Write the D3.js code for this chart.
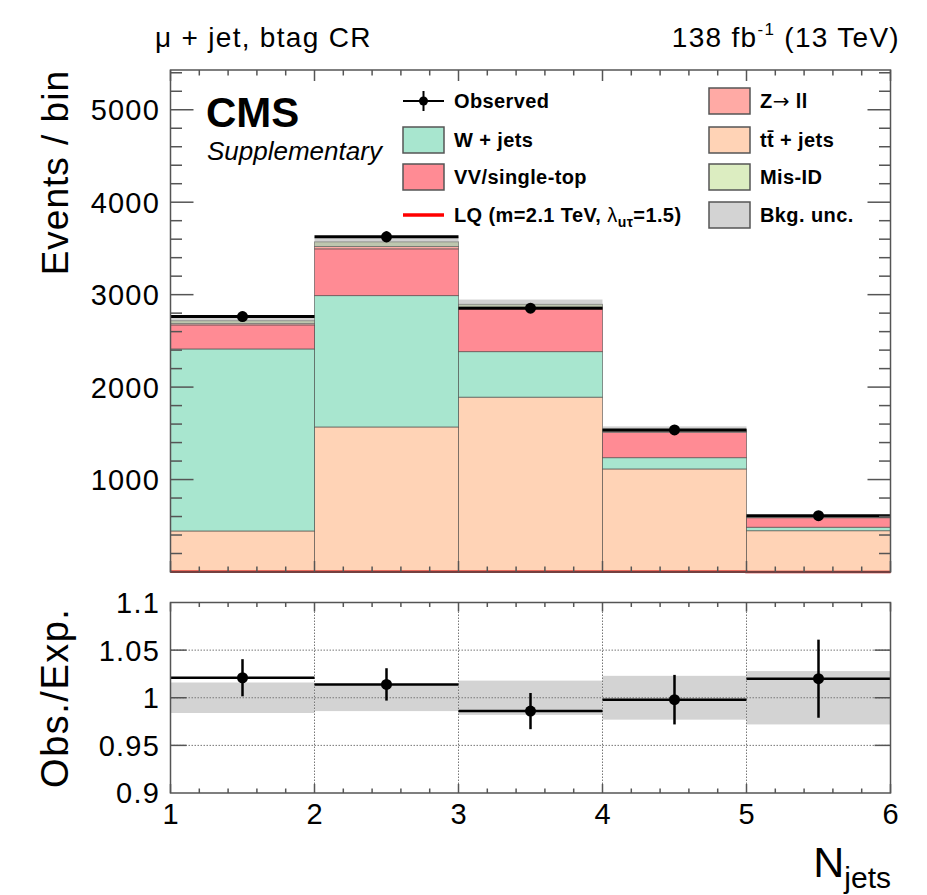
<!DOCTYPE html>
<html>
<head>
  <meta charset='utf-8'>
  <title>Njets btag CR</title>
  <script src='https://cdn.jsdelivr.net/npm/d3@7'></script>
  <style>
    body { margin: 0; background: #fff; }
    text { font-family: 'Liberation Sans', Arial, Helvetica, sans-serif; }
  </style>
</head>
<body>
<script>
  // bin edges in N_jets, one entry per bin (low edge)
  const binLow = [1, 2, 3, 4, 5];
  const binWidth = 1;

  // stacked backgrounds (bottom -> top), events / bin
  const ttJets = [444, 1569, 1891, 1115, 447];
  const wJets = [1969, 1421, 493, 122, 37];
  const vvSingleTop = [260, 506, 466, 273, 104];
  const zll = [15, 25, 15, 10, 3];
  const misId = [30, 50, 30, 20, 6];
  const bkgUnc = [43, 50, 52, 35, 17];
  const lqSignal = [2, 3, 3, 2, 1];

  const observed = [2763, 3626, 2854, 1537, 609];
  const observedErr = [53, 60, 53, 39, 25];

  // ratio panel
  const ratio = [1.021, 1.014, 0.986, 0.998, 1.020];
  const ratioErr = [0.0195, 0.017, 0.019, 0.026, 0.041];
  const ratioUnc = [0.016, 0.014, 0.018, 0.023, 0.028];

  const upperTicks = [1000, 2000, 3000, 4000, 5000];
  const lowerTicks = [0.9, 0.95, 1, 1.05, 1.1];
  const lowerTickLabels = ['0.9', '0.95', '1', '1.05', '1.1'];
  const xTicks = [1, 2, 3, 4, 5, 6];

  const components = [
    { key: 'tt', name: 'tt\u0304 + jets', color: '#ffd3b6', values: ttJets },
    { key: 'w', name: 'W + jets', color: '#a8e6cf', values: wJets },
    { key: 'vv', name: 'VV/single-top', color: '#ff8b94', values: vvSingleTop },
    { key: 'z', name: 'Z\u2192 ll', color: '#ffaaa5', values: zll },
    { key: 'mis', name: 'Mis-ID', color: '#dcedc1', values: misId }
  ];

  const width = 927, height = 895;
  const left = 170.5, right = 890.5;
  const up = { top: 70, bottom: 572 };
  const lo = { top: 602.5, bottom: 793 };

  const svg = d3.select('body').append('svg')
    .attr('width', width).attr('height', height);

  const x = d3.scaleLinear().domain([1, 6]).range([left, right]);
  const yUp = d3.scaleLinear().domain([0, 5430]).range([up.bottom, up.top]);
  const yLo = d3.scaleLinear().domain([0.9, 1.1]).range([lo.bottom, lo.top]);

  // ---------- upper panel ----------
  const table = binLow.map((b, i) => {
    const row = { bin: b };
    components.forEach(c => row[c.key] = c.values[i]);
    return row;
  });
  const stacked = d3.stack().keys(components.map(c => c.key))(table);
  const colorOf = Object.fromEntries(components.map(c => [c.key, c.color]));

  const gUp = svg.append('g');
  gUp.selectAll('g.layer')
    .data(stacked)
    .join('g')
    .attr('class', 'layer')
    .attr('fill', d => colorOf[d.key])
    .selectAll('rect')
    .data(d => d)
    .join('rect')
    .attr('x', d => x(d.data.bin))
    .attr('width', d => x(d.data.bin + binWidth) - x(d.data.bin))
    .attr('y', d => yUp(d[1]))
    .attr('height', d => yUp(d[0]) - yUp(d[1]))
    .attr('stroke', 'rgba(60,60,60,0.55)')
    .attr('stroke-width', 1);

  const totals = stacked[stacked.length - 1].map(d => d[1]);

  // background uncertainty band
  gUp.selectAll('rect.unc')
    .data(binLow)
    .join('rect')
    .attr('class', 'unc')
    .attr('x', d => x(d))
    .attr('width', d => x(d + binWidth) - x(d))
    .attr('y', (d, i) => yUp(totals[i] + bkgUnc[i]))
    .attr('height', (d, i) => yUp(totals[i] - bkgUnc[i]) - yUp(totals[i] + bkgUnc[i]))
    .attr('fill', '#9a9a9a')
    .attr('fill-opacity', 0.45);

  // LQ signal as a step line
  const lqPts = [];
  binLow.forEach((b, i) => {
    lqPts.push([b, lqSignal[i]]);
    lqPts.push([b + binWidth, lqSignal[i]]);
  });
  gUp.append('path')
    .attr('d', d3.line().x(d => x(d[0])).y(d => yUp(d[1]))(lqPts))
    .attr('fill', 'none')
    .attr('stroke', '#d00000')
    .attr('stroke-width', 2.5);

  // observed
  const obs = gUp.append('g');
  obs.selectAll('line.xerr')
    .data(binLow)
    .join('line')
    .attr('x1', d => x(d)).attr('x2', d => x(d + binWidth))
    .attr('y1', (d, i) => yUp(observed[i])).attr('y2', (d, i) => yUp(observed[i]))
    .attr('stroke', '#000').attr('stroke-width', 3);
  obs.selectAll('line.yerr')
    .data(binLow)
    .join('line')
    .attr('x1', d => x(d + 0.5)).attr('x2', d => x(d + 0.5))
    .attr('y1', (d, i) => yUp(observed[i] - observedErr[i]))
    .attr('y2', (d, i) => yUp(observed[i] + observedErr[i]))
    .attr('stroke', '#000').attr('stroke-width', 2);
  obs.selectAll('circle')
    .data(binLow)
    .join('circle')
    .attr('cx', d => x(d + 0.5))
    .attr('cy', (d, i) => yUp(observed[i]))
    .attr('r', 5.5)
    .attr('fill', '#000');

  // ---------- lower panel ----------
  const gLo = svg.append('g');

  gLo.selectAll('rect.band')
    .data(binLow)
    .join('rect')
    .attr('x', d => x(d))
    .attr('width', d => x(d + binWidth) - x(d))
    .attr('y', (d, i) => yLo(1 + ratioUnc[i]))
    .attr('height', (d, i) => yLo(1 - ratioUnc[i]) - yLo(1 + ratioUnc[i]))
    .attr('fill', '#d3d3d3');

  // dotted grid
  gLo.selectAll('line.hgrid')
    .data([0.95, 1, 1.05])
    .join('line')
    .attr('x1', left).attr('x2', right)
    .attr('y1', d => yLo(d)).attr('y2', d => yLo(d))
    .attr('stroke', '#777').attr('stroke-width', 1).attr('stroke-dasharray', '1.5,1.5');
  gLo.selectAll('line.vgrid')
    .data([2, 3, 4, 5])
    .join('line')
    .attr('x1', d => x(d)).attr('x2', d => x(d))
    .attr('y1', lo.top).attr('y2', lo.bottom)
    .attr('stroke', '#777').attr('stroke-width', 1).attr('stroke-dasharray', '1.5,1.5');

  gLo.selectAll('line.rx')
    .data(binLow)
    .join('line')
    .attr('x1', d => x(d)).attr('x2', d => x(d + binWidth))
    .attr('y1', (d, i) => yLo(ratio[i])).attr('y2', (d, i) => yLo(ratio[i]))
    .attr('stroke', '#000').attr('stroke-width', 2.5);
  gLo.selectAll('line.ry')
    .data(binLow)
    .join('line')
    .attr('x1', d => x(d + 0.5)).attr('x2', d => x(d + 0.5))
    .attr('y1', (d, i) => yLo(ratio[i] - ratioErr[i]))
    .attr('y2', (d, i) => yLo(ratio[i] + ratioErr[i]))
    .attr('stroke', '#000').attr('stroke-width', 2.5);
  gLo.selectAll('circle')
    .data(binLow)
    .join('circle')
    .attr('cx', d => x(d + 0.5))
    .attr('cy', (d, i) => yLo(ratio[i]))
    .attr('r', 5.5)
    .attr('fill', '#000');

  // ---------- frames and ticks ----------
  const frameColor = '#555';
  function frame(top, bottom) {
    svg.append('rect')
      .attr('x', left).attr('y', top)
      .attr('width', right - left).attr('height', bottom - top)
      .attr('fill', 'none').attr('stroke', frameColor).attr('stroke-width', 1.5);
  }
  frame(up.top, up.bottom);
  frame(lo.top, lo.bottom);

  const xMinor = d3.range(1, 6.001, 0.2);
  function xTickMarks(top, bottom, majLen, minLen) {
    const g = svg.append('g').attr('stroke', frameColor).attr('stroke-width', 1.5);
    xMinor.forEach(v => {
      const major = Math.abs(v - Math.round(v)) < 1e-6;
      const len = major ? majLen : minLen;
      g.append('line').attr('x1', x(v)).attr('x2', x(v)).attr('y1', bottom).attr('y2', bottom - len);
      g.append('line').attr('x1', x(v)).attr('x2', x(v)).attr('y1', top).attr('y2', top + len);
    });
  }
  xTickMarks(up.top, up.bottom, 11, 5.5);
  xTickMarks(lo.top, lo.bottom, 9, 4.5);

  // upper y ticks: major 1000, minor 200
  const gYT = svg.append('g').attr('stroke', frameColor).attr('stroke-width', 1.5);
  d3.range(200, 5430, 200).forEach(v => {
    const len = v % 1000 === 0 ? 23 : 11.5;
    gYT.append('line').attr('x1', left).attr('x2', left + len).attr('y1', yUp(v)).attr('y2', yUp(v));
    gYT.append('line').attr('x1', right).attr('x2', right - len).attr('y1', yUp(v)).attr('y2', yUp(v));
  });
  [0.95, 1, 1.05].forEach(v => {
    gYT.append('line').attr('x1', left).attr('x2', left + 16).attr('y1', yLo(v)).attr('y2', yLo(v));
    gYT.append('line').attr('x1', right).attr('x2', right - 16).attr('y1', yLo(v)).attr('y2', yLo(v));
  });

  // tick labels
  const tickFont = 29;
  svg.append('g')
    .selectAll('text')
    .data(upperTicks)
    .join('text')
    .attr('x', 160).attr('y', d => yUp(d))
    .attr('dy', '0.36em')
    .attr('text-anchor', 'end')
    .attr('font-size', tickFont)
    .attr('letter-spacing', 1.2)
    .text(d => d);

  svg.append('g')
    .selectAll('text')
    .data(lowerTicks)
    .join('text')
    .attr('x', 160).attr('y', d => yLo(d))
    .attr('dy', '0.36em')
    .attr('text-anchor', 'end')
    .attr('font-size', tickFont)
    .attr('letter-spacing', 1.2)
    .text((d, i) => lowerTickLabels[i]);

  svg.append('g')
    .selectAll('text')
    .data(xTicks)
    .join('text')
    .attr('x', d => x(d)).attr('y', 824)
    .attr('text-anchor', 'middle')
    .attr('font-size', tickFont)
    .text(d => d);

  // axis titles
  svg.append('text')
    .attr('transform', 'translate(68,70) rotate(-90)')
    .attr('text-anchor', 'end')
    .attr('font-size', 37)
    .attr('letter-spacing', 1)
    .text('Events / bin');
  svg.append('text')
    .attr('transform', `translate(68,${(lo.top + lo.bottom) / 2}) rotate(-90)`)
    .attr('text-anchor', 'middle')
    .attr('font-size', 38)
    .attr('letter-spacing', 1.5)
    .text('Obs./Exp.');

  const nj = svg.append('text')
    .attr('x', 891).attr('y', 877)
    .attr('text-anchor', 'end')
    .attr('font-size', 43);
  nj.append('tspan').text('N');
  nj.append('tspan').attr('font-size', 30).attr('dy', 11).text('jets');

  // header
  svg.append('text')
    .attr('x', 155).attr('y', 47)
    .attr('font-size', 28)
    .attr('letter-spacing', 1.3)
    .text('\u03bc + jet, btag CR');
  const lumi = svg.append('text')
    .attr('x', 900).attr('y', 47)
    .attr('text-anchor', 'end')
    .attr('font-size', 28)
    .attr('letter-spacing', 1.3);
  lumi.append('tspan').text('138 fb');
  lumi.append('tspan').attr('font-size', 17).attr('dy', -12).text('-1');
  lumi.append('tspan').attr('dy', 12).text(' (13 TeV)');

  svg.append('text')
    .attr('x', 206).attr('y', 127)
    .attr('font-size', 42).attr('font-weight', 'bold')
    .text('CMS');
  svg.append('text')
    .attr('x', 207).attr('y', 160)
    .attr('font-size', 26).attr('font-style', 'italic')
    .text('Supplementary');

  // ---------- legend ----------
  const legFont = 20;
  const leg = svg.append('g').attr('font-size', legFont).attr('font-weight', 'bold')
    .attr('letter-spacing', 0.4);
  const rowY = [101, 140, 177, 215];
  const boxW = 41, boxH = 26;

  function legBox(x0, y0, color, label) {
    leg.append('rect')
      .attr('x', x0).attr('y', y0 - boxH / 2)
      .attr('width', boxW).attr('height', boxH)
      .attr('fill', color)
      .attr('stroke', '#555').attr('stroke-width', 1.5);
    return leg.append('text').attr('x', x0 + 51).attr('y', y0).attr('dy', '0.36em').text(label);
  }

  // Observed
  leg.append('line').attr('x1', 403).attr('x2', 444).attr('y1', rowY[0]).attr('y2', rowY[0])
    .attr('stroke', '#000').attr('stroke-width', 2);
  leg.append('line').attr('x1', 423.5).attr('x2', 423.5).attr('y1', rowY[0] - 10).attr('y2', rowY[0] + 10)
    .attr('stroke', '#000').attr('stroke-width', 2);
  leg.append('circle').attr('cx', 423.5).attr('cy', rowY[0]).attr('r', 4.5).attr('fill', '#000');
  leg.append('text').attr('x', 454).attr('y', rowY[0]).attr('dy', '0.36em').text('Observed');

  legBox(403, rowY[1], colorOf.w, 'W + jets');
  legBox(403, rowY[2], colorOf.vv, 'VV/single-top');

  leg.append('line').attr('x1', 403).attr('x2', 444).attr('y1', rowY[3]).attr('y2', rowY[3])
    .attr('stroke', '#ff0000').attr('stroke-width', 3.5);
  const lqT = leg.append('text').attr('x', 454).attr('y', rowY[3]).attr('dy', '0.36em');
  lqT.append('tspan').text('LQ (m=2.1 TeV, ');
  lqT.append('tspan').attr('font-weight', 'normal').text('\u03bb');
  lqT.append('tspan').attr('font-size', 14).attr('dy', 5).text('u\u03c4');
  lqT.append('tspan').attr('dy', -5).text('=1.5)');

  const zT = legBox(709, rowY[0], colorOf.z, '');
  zT.append('tspan').text('Z');
  zT.append('tspan').attr('font-family', 'DejaVu Sans').attr('font-weight', 'normal')
    .attr('font-size', 20).text('\u2192');
  zT.append('tspan').text(' ll');
  legBox(709, rowY[1], colorOf.tt, 'tt\u0304 + jets');
  legBox(709, rowY[2], colorOf.mis, 'Mis-ID');
  legBox(709, rowY[3], '#d3d3d3', 'Bkg. unc.');
</script>
</body>
</html>
